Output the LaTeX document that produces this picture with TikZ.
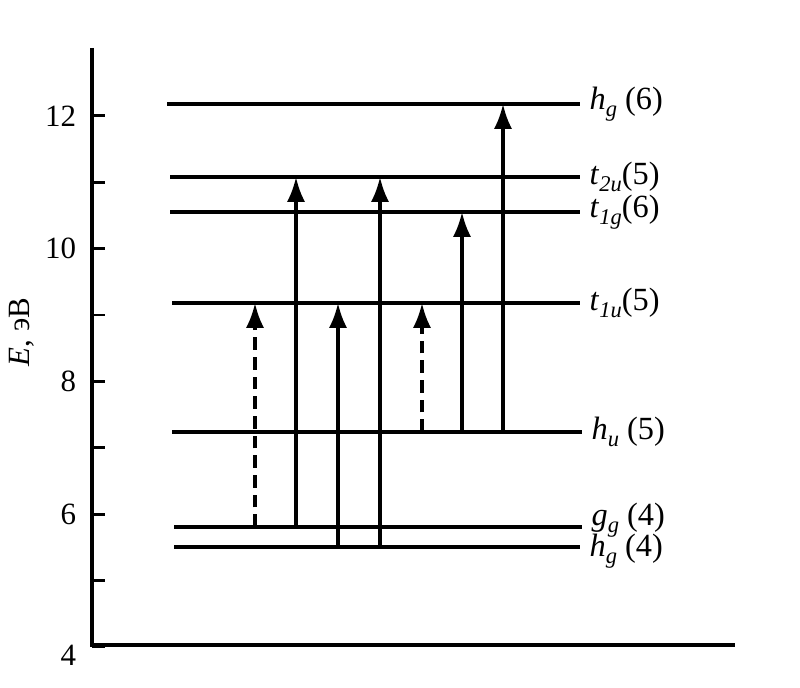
\documentclass[tikz,border=0pt]{standalone}
\usepackage{fontspec}
\setmainfont{Liberation Serif}
\usepackage{tikz}
\usetikzlibrary{positioning,arrows.meta}
\newcommand{\irrep}[2]{\textit{#1}\raisebox{-0.5ex}{\fontsize{16}{16}\selectfont\textit{#2}}}

\begin{document}
\begin{tikzpicture}[x=0.025cm, y=-0.025cm, font=\fontsize{22}{26}\selectfont,
    level/.style={line width=2.6pt},
    trans/.style={line width=2.3pt, -{Latex[length=0.62cm, width=0.45cm]}},
    weak/.style={trans, dash pattern=on 9pt off 5pt},
    lab/.style={inner sep=1pt, font=\fontsize{23}{26}\selectfont}]
    \useasboundingbox (0,0) rectangle (800,688);

    % Axes
    \coordinate (top) at (92,48);
    \coordinate (origin) at (92,645);
    \coordinate (xend) at (735,645);
    \draw[line width=2.6pt] (top) -- (origin) -- (xend);
    \foreach \e in {4,...,12} {
        \draw[line width=2pt] (92,{647-66.4*(\e-4)}) -- ++(13,0);
    }
    \foreach \e in {6,8,...,12} {
        \node[anchor=east] at (81,{647-66.4*(\e-4)}) {\e};
    }
    \node[anchor=east] (four) at (81,655) {4};
    \node[rotate=90] (elabel) at (22,332) {\textit{E}, эВ};

    % Levels
    \coordinate (hg6L) at (167,104); \coordinate (hg6R) at (580,104);
    \coordinate (t2uL) at (170,177); \coordinate (t2uR) at (580,177);
    \coordinate (t1gL) at (170,212); \coordinate (t1gR) at (580,212);
    \coordinate (t1uL) at (172,303); \coordinate (t1uR) at (580,303);
    \coordinate (huL) at (172,432);  \coordinate (huR) at (582,432);
    \coordinate (ggL) at (174,527);  \coordinate (ggR) at (582,527);
    \coordinate (hg4L) at (174,547); \coordinate (hg4R) at (580,547);
    \foreach \lv in {hg6,t2u,t1g,t1u,hu,gg,hg4} {
        \draw[level] (\lv L) -- (\lv R);
    }
    \node[lab, right=0.2cm of hg6R] (hg6) {\irrep{h}{g} (6)};
    \node[lab, right=0.2cm of t2uR] (t2u) {\irrep{t}{2u}(5)};
    \node[lab, right=0.2cm of t1gR] (t1g) {\irrep{t}{1g}(6)};
    \node[lab, right=0.2cm of t1uR] (t1u) {\irrep{t}{1u}(5)};
    \node[lab, right=0.2cm of huR] (hu) {\irrep{h}{u} (5)};
    \node[lab, right=0.2cm of ggR, yshift=5pt] (gg) {\irrep{g}{g} (4)};
    \node[lab, right=0.2cm of hg4R, yshift=-3pt] (hg4) {\irrep{h}{g} (4)};

    % Transitions
    \coordinate (c1) at (255,0); \coordinate (c2) at (296,0);
    \coordinate (c3) at (338,0); \coordinate (c4) at (380,0);
    \coordinate (c5) at (422,0); \coordinate (c6) at (462,0);
    \coordinate (c7) at (503,0);
    \draw[weak] (ggL -| c1) -- (t1uL -| c1);
    \draw[trans] (ggL -| c2) -- (t2uL -| c2);
    \draw[trans] (hg4L -| c3) -- (t1uL -| c3);
    \draw[trans] (hg4L -| c4) -- (t2uL -| c4);
    \draw[weak] (huL -| c5) -- (t1uL -| c5);
    \draw[trans] (huL -| c6) -- (t1gL -| c6);
    \draw[trans] (huL -| c7) -- (hg6L -| c7);
\end{tikzpicture}
\end{document}
